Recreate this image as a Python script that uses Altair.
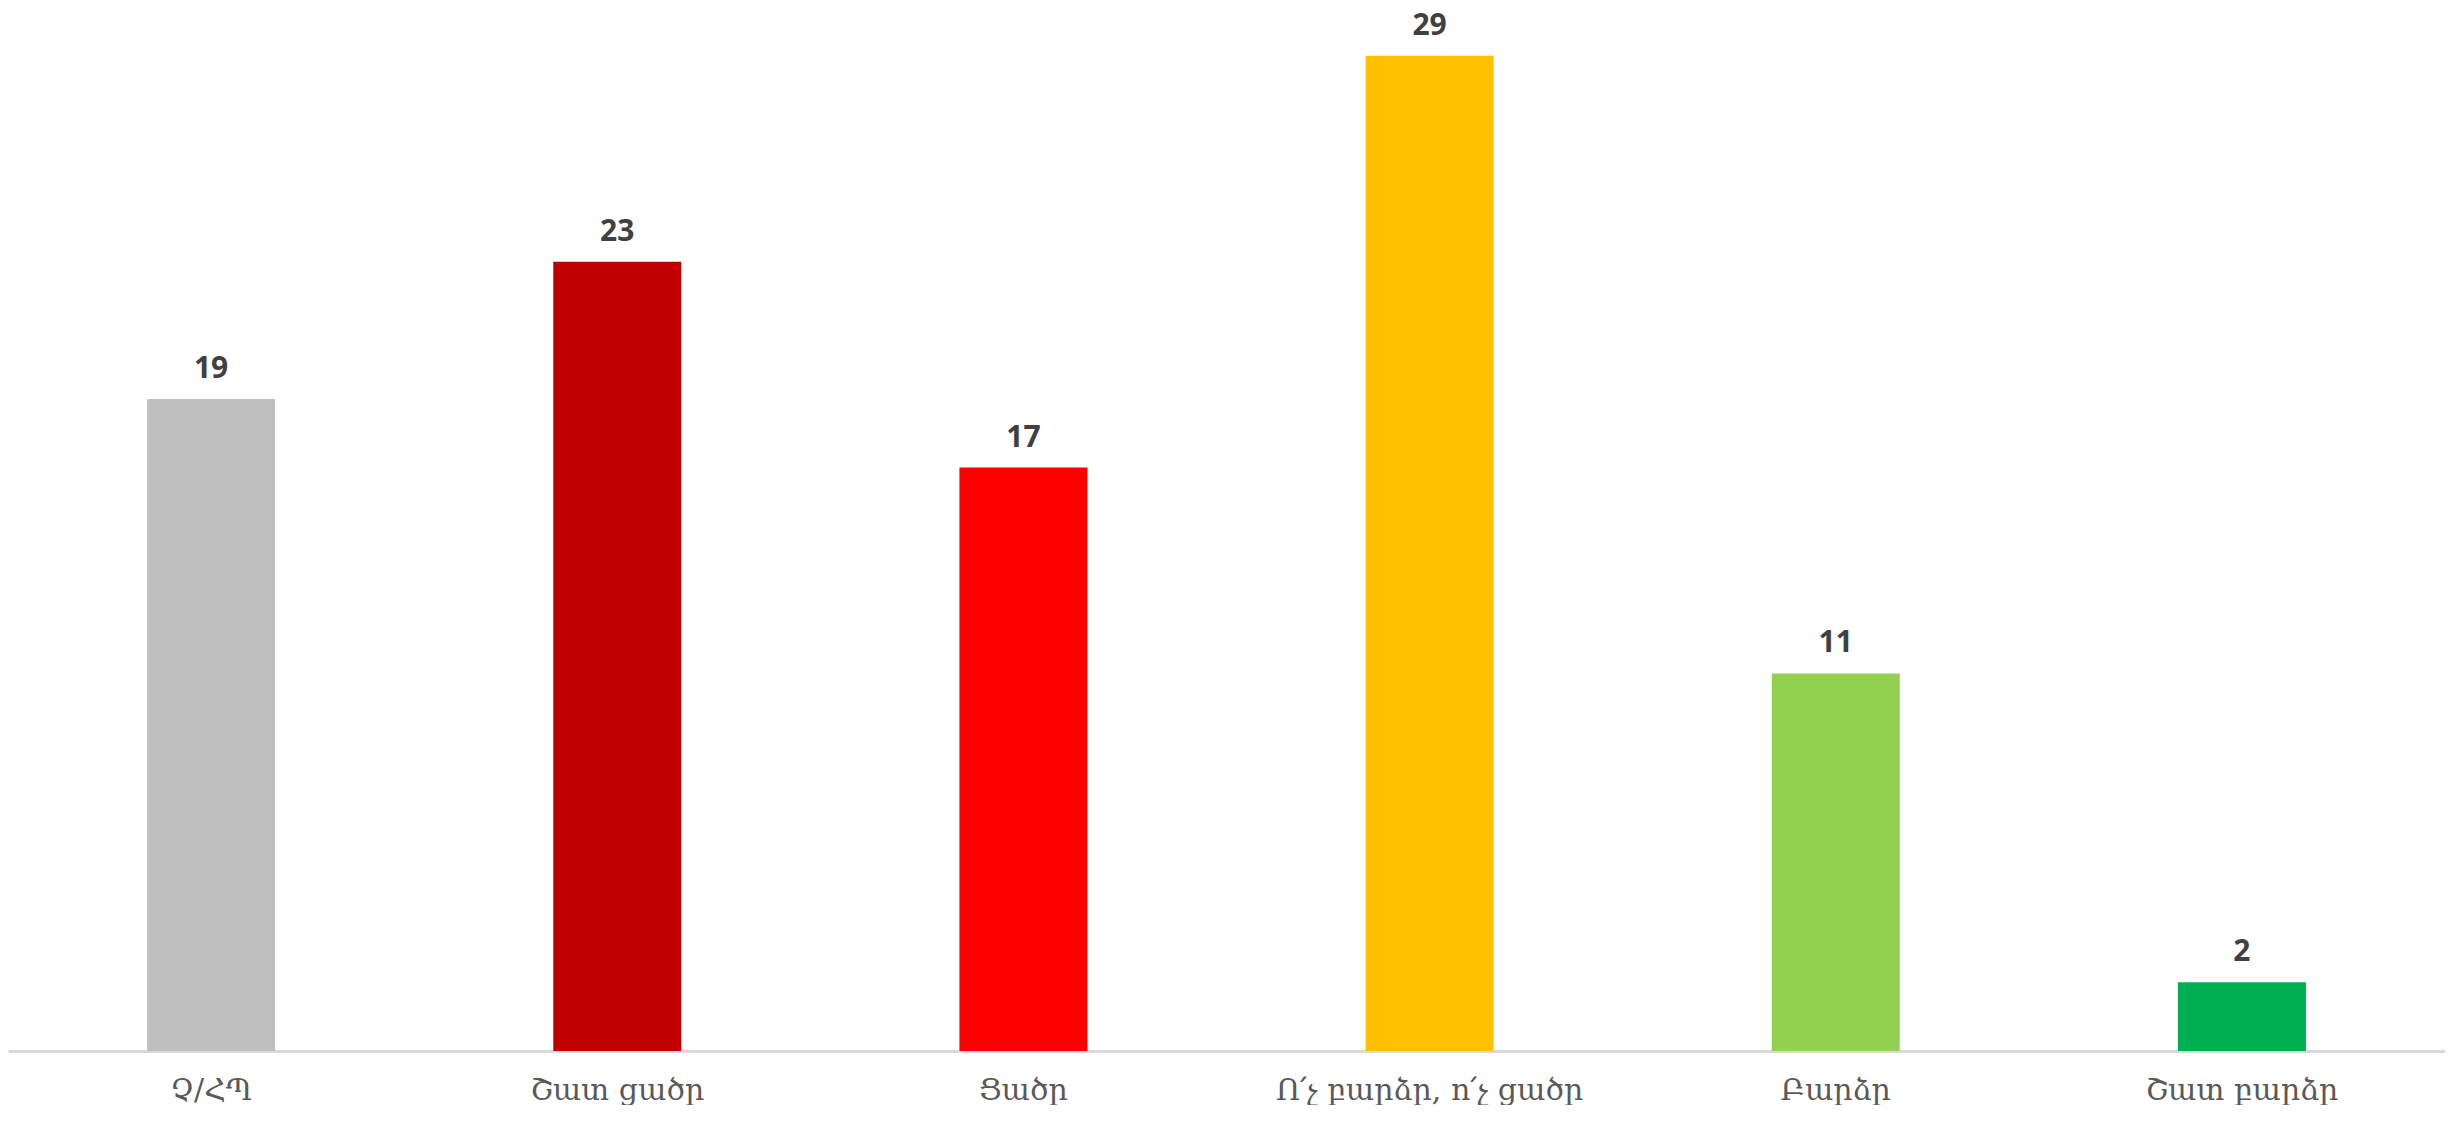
import altair as alt
import pandas as pd

categories = ["Չ/ՀՊ", "Շատ ցածր", "Ցածր", "Ո՛չ բարձր, ո՛չ ցածր", "Բարձր", "Շատ բարձր"]
values = [19, 23, 17, 29, 11, 2]
colors = ["#BFBFBF", "#C00000", "#FF0000", "#FFC000", "#92D050", "#00B050"]

df = pd.DataFrame({"cat": categories, "val": values, "col": colors})

x = alt.X("cat:N", sort=categories, title=None,
          scale=alt.Scale(paddingInner=0, paddingOuter=0),
          axis=alt.Axis(labelAngle=0, labelFont="DejaVu Serif", labelFontSize=30,
                        labelLimit=0, labelColor="#595959", labelPadding=24, ticks=False,
                        domainColor="#D9D9D9", domainWidth=3, grid=False))
y = alt.Y("val:Q", title=None, scale=alt.Scale(domain=[0, 30.1], nice=False, zero=True),
          axis=None)

bars = alt.Chart(df).mark_bar(size=128).encode(
    x=x, y=y, color=alt.Color("col:N", scale=None)
)
text = alt.Chart(df).mark_text(dy=-21, baseline="alphabetic", font="Open Sans",
                               fontWeight="bold", fontSize=30, color="#404040").encode(
    x=alt.X("cat:N", sort=categories), y="val:Q", text="val:Q"
)

chart = (bars + text).properties(
    width=2437, height=1033,
    padding={"top": 2, "left": 0, "right": 0, "bottom": 0}
).configure_view(stroke=None)
chart.save("out.html", embed_options={"renderer": "svg", "actions": False})
